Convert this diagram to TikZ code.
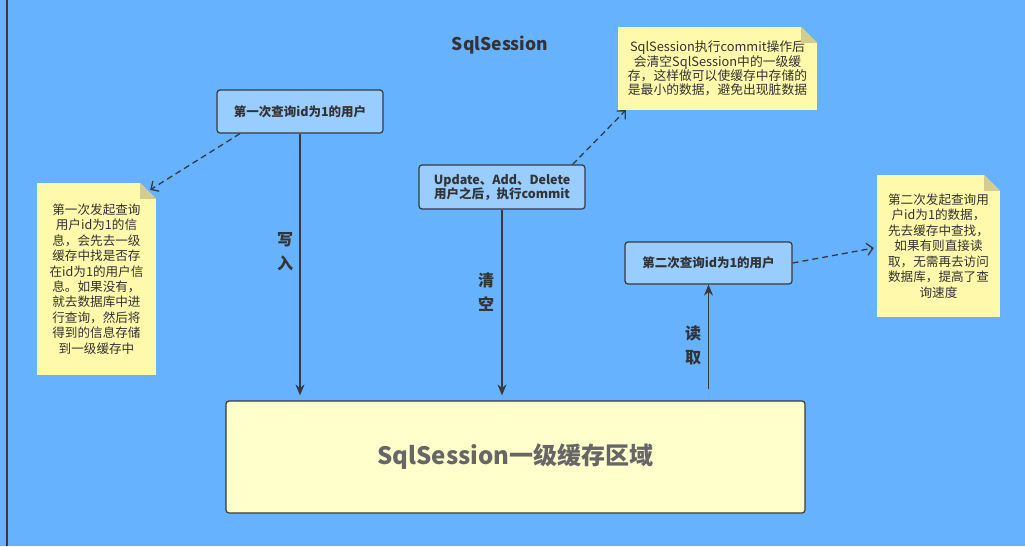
\documentclass[tikz,border=0pt]{standalone}
\usepackage{fontspec}
\setmainfont{Noto Sans CJK SC}
\usetikzlibrary{calc,positioning,arrows.meta}
\definecolor{bgblue}{HTML}{66B2FF}
\definecolor{boxblue}{HTML}{99CCFF}
\definecolor{edgegray}{HTML}{36393D}
\definecolor{txtgray}{HTML}{333333}
\definecolor{bigtxt}{HTML}{666666}
\definecolor{cachefill}{HTML}{FFFFCC}
\definecolor{notefill}{HTML}{FFF9AB}
\definecolor{foldfill}{HTML}{D2CD8C}
\tikzset{
  qbox/.style={draw=edgegray, line width=1.2pt, fill=boxblue, rounded corners=3pt, minimum width=166pt, minimum height=43pt, inner sep=2pt, align=center, text=txtgray, font=\bfseries\fontsize{12.5}{14}\selectfont},
  cachebox/.style={draw=edgegray, line width=1.2pt, fill=cachefill, rounded corners=3pt, minimum width=579pt, minimum height=112pt, text=bigtxt, font=\bfseries\fontsize{24}{28}\selectfont},
  note/.style={fill=notefill, inner sep=0pt, align=center, text=txtgray, font=\fontsize{12.6}{15.4}\selectfont},
  flow/.style={line width=1.3pt, draw=edgegray, -{Stealth[length=11pt,width=9pt]}},
  hint/.style={line width=1.3pt, draw=edgegray, dash pattern=on 6pt off 4pt, -{Straight Barb[length=6pt,width=12pt]}},
  vlabel/.style={align=center, text=txtgray, font=\bfseries\fontsize{16}{24}\selectfont}
}
\begin{document}
\begin{tikzpicture}[x=1pt,y=-1pt]
  \useasboundingbox (0,0) rectangle (1025,546);
  \fill[bgblue] (0,0) rectangle (1025,546);
  \draw[edgegray, line width=2pt] (7,0) -- (7,546);

  \node[text=txtgray, font=\bfseries\fontsize{17.5}{20}\selectfont] (title) at (500,45) {SqlSession};

  % query / update boxes
  \node[qbox] (first) at (300,111.5) {第一次查询id为1的用户};
  \node[qbox, minimum height=44pt] (update) at (502,187) {Update、Add、Delete\\用户之后，执行commit};
  \node[qbox, minimum width=167pt, minimum height=42pt] (second) at (708.5,263) {第二次查询id为1的用户};
  \node[cachebox] (cache) at (515.5,457) {SqlSession一级缓存区域};

  % notes
  \node[note, minimum width=119pt, minimum height=192pt] (tipfirst) at (96.5,279)
    {第一次发起查询\\用户id为1的信\\息，会先去一级\\缓存中找是否存\\在id为1的用户信\\息。如果没有，\\就去数据库中进\\行查询，然后将\\得到的信息存储\\到一级缓存中};
  \node[note, minimum width=199pt, minimum height=83pt, font=\fontsize{12.8}{14.2}\selectfont] (tipcommit) at (717.5,68.5)
    {SqlSession执行commit操作后\\会清空SqlSession中的一级缓\\存，这样做可以使缓存中存储的\\是最小的数据，避免出现脏数据};
  \node[note, minimum width=123pt, minimum height=142pt, font=\fontsize{12.6}{15.5}\selectfont] (tipsecond) at (938.5,246)
    {第二次发起查询用\\户id为1的数据，\\先去缓存中查找，\\ 如果有则直接读\\取，无需再去访问\\数据库，提高了查\\询速度};
  \foreach \n in {tipfirst,tipcommit,tipsecond} {
    \fill[bgblue] ($(\n.north east)+(-16,0)$) -- (\n.north east) -- ($(\n.north east)+(0,16)$) -- cycle;
    \fill[foldfill] ($(\n.north east)+(-16,0)$) -- ($(\n.north east)+(-16,16)$) -- ($(\n.north east)+(0,16)$) -- cycle;
  }

  % solid flows
  \draw[flow, shorten >=5pt] (first.south) -- (first.south |- cache.north);
  \draw[flow, shorten >=5pt] (update.south) -- (update.south |- cache.north);
  \draw[flow, shorten <=11pt] (second.south |- cache.north) -- (second.south);
  \node[vlabel] (wlabel) at (285,252) {写\\入};
  \node[vlabel] (clabel) at (486,292) {清\\空};
  \node[vlabel] (rlabel) at (693,345) {读\\取};

  % dashed hints
  \draw[hint] ($(first.south)+(-60,0)$) -- ($(tipfirst.north east)+(-6,7)$);
  \draw[hint] ($(update.north east)+(-13,0)$) -- ($(tipcommit.south west)+(8,0)$);
  \draw[hint] (second.east) -- ($(tipsecond.west)+(-3,2)$);
\end{tikzpicture}
\end{document}
